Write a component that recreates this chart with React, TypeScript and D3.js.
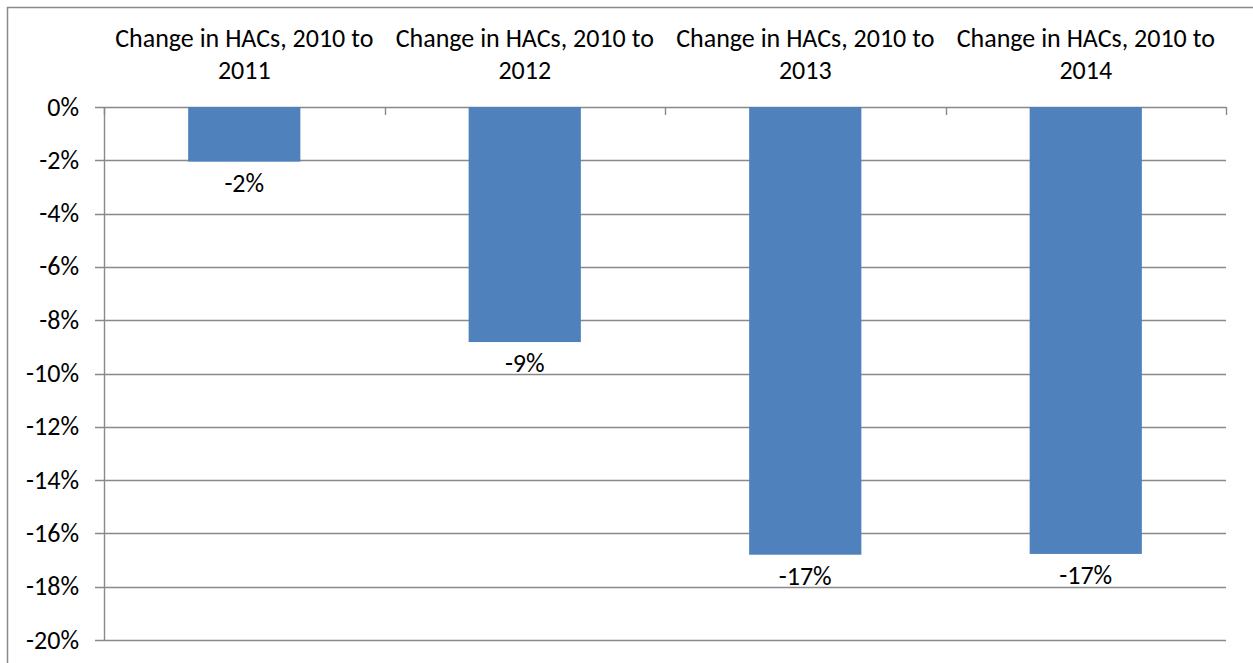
import { useEffect, useRef } from 'react';
import * as d3 from 'd3';

// Data
const CATEGORIES = [
  ['Change in HACs, 2010 to', '2011'],
  ['Change in HACs, 2010 to', '2012'],
  ['Change in HACs, 2010 to', '2013'],
  ['Change in HACs, 2010 to', '2014'],
];
const VALUES = [-2.05, -8.82, -16.8, -16.77];
const Y_TICKS = [0, -2, -4, -6, -8, -10, -12, -14, -16, -18, -20];

const WIDTH = 1253;
const HEIGHT = 663;
const FONT = 'Carlito, Calibri, "Open Sans", sans-serif';
const FONT_SIZE = '26px';
const GRID = '#898989';
const BAR = '#4F81BD';

export default function App() {
  const svgRef = useRef<SVGSVGElement>(null);

  useEffect(() => {
    if (!svgRef.current) return;
    const svg = d3.select(svgRef.current);
    svg.selectAll('*').remove();

    const plot = { left: 104, right: 1226, top: 107, bottom: 640 };

    const x = d3.scaleBand<number>()
      .domain(CATEGORIES.map((_, i) => i))
      .range([plot.left, plot.right])
      .paddingInner(0)
      .paddingOuter(0);

    const y = d3.scaleLinear()
      .domain([0, -20])
      .range([plot.top, plot.bottom]);

    // Outer frame
    svg.append('rect')
      .attr('x', 7.5)
      .attr('y', 7.5)
      .attr('width', WIDTH + 20)
      .attr('height', HEIGHT + 20)
      .attr('fill', 'none')
      .attr('stroke', GRID)
      .attr('stroke-width', 1.5);

    // Horizontal gridlines (extend left as tick marks)
    svg.append('g')
      .selectAll('line')
      .data(Y_TICKS)
      .join('line')
      .attr('x1', plot.left - 9)
      .attr('x2', plot.right)
      .attr('y1', d => Math.round(y(d)) + 0.5)
      .attr('y2', d => Math.round(y(d)) + 0.5)
      .attr('stroke', GRID)
      .attr('stroke-width', 1.4);

    // Y axis line
    svg.append('line')
      .attr('x1', plot.left + 0.5)
      .attr('x2', plot.left + 0.5)
      .attr('y1', plot.top)
      .attr('y2', plot.bottom)
      .attr('stroke', GRID)
      .attr('stroke-width', 1.4);

    // Category tick marks at 0 axis (pointing down)
    const boundaries = CATEGORIES.map((_, i) => (x(i) ?? 0)).concat([plot.right]);
    svg.append('g')
      .selectAll('line')
      .data(boundaries)
      .join('line')
      .attr('x1', d => Math.round(d) + 0.5)
      .attr('x2', d => Math.round(d) + 0.5)
      .attr('y1', plot.top)
      .attr('y2', plot.top + 8)
      .attr('stroke', GRID)
      .attr('stroke-width', 1.4);

    // Y tick labels
    svg.append('g')
      .selectAll('text')
      .data(Y_TICKS)
      .join('text')
      .attr('x', 79)
      .attr('y', d => y(d))
      .attr('dy', '0.33em')
      .attr('text-anchor', 'end')
      .attr('font-family', FONT)
      .attr('font-size', FONT_SIZE)
      .attr('fill', '#000')
      .text(d => `${d}%`);

    // Bars
    const barW = x.bandwidth() * 0.4;
    svg.append('g')
      .selectAll('rect')
      .data(VALUES)
      .join('rect')
      .attr('x', (_, i) => (x(i) ?? 0) + x.bandwidth() / 2 - barW / 2)
      .attr('y', y(0))
      .attr('width', barW)
      .attr('height', d => y(d) - y(0))
      .attr('fill', BAR);

    // Data labels
    svg.append('g')
      .selectAll('text')
      .data(VALUES)
      .join('text')
      .attr('x', (_, i) => (x(i) ?? 0) + x.bandwidth() / 2)
      .attr('y', d => y(d) + 30)
      .attr('text-anchor', 'middle')
      .attr('font-family', FONT)
      .attr('font-size', FONT_SIZE)
      .attr('fill', '#000')
      .text(d => `${Math.round(d)}%`);

    // Category labels above the plot
    const cat = svg.append('g');
    CATEGORIES.forEach((lines, i) => {
      const cx = (x(i) ?? 0) + x.bandwidth() / 2;
      lines.forEach((line, j) => {
        cat.append('text')
          .attr('x', cx)
          .attr('y', 47 + j * 32)
          .attr('text-anchor', 'middle')
          .attr('font-family', FONT)
          .attr('font-size', FONT_SIZE)
          .attr('fill', '#000')
          .text(line);
      });
    });
  }, []);

  return (
    <svg
      ref={svgRef}
      width={WIDTH}
      height={HEIGHT}
      style={{ position: 'absolute', left: 0, top: 0, background: '#fff' }}
    />
  );
}
